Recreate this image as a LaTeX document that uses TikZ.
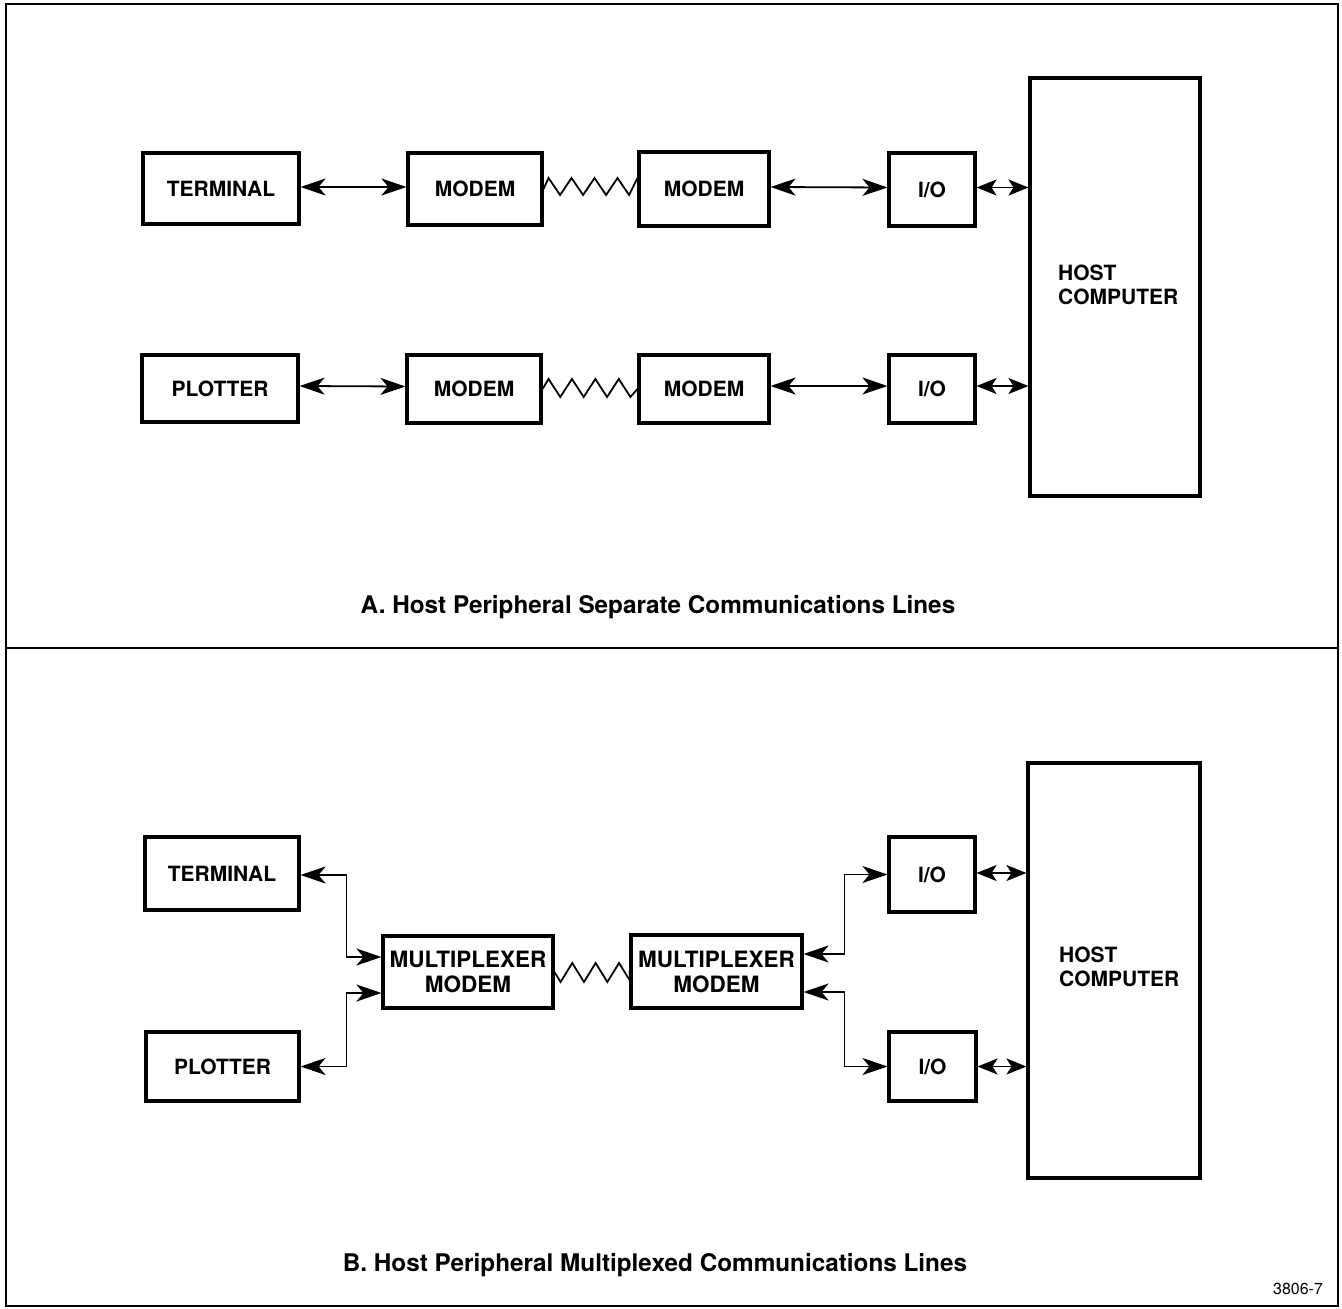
\documentclass[tikz,border=0pt]{standalone}
\usepackage{fontspec}
\setmainfont{TeX Gyre Heros}
\usetikzlibrary{arrows.meta,calc}

\tikzset{
  blk/.style={draw, line width=3.1pt, inner sep=0pt, font=\fontsize{21}{24}\selectfont\bfseries},
  mux/.style={blk, align=center, font=\fontsize{22.5}{25}\selectfont\bfseries},
  link/.style={line width=1.8pt, {Stealth[length=25pt,width=17pt,inset=7pt]}-{Stealth[length=25pt,width=17pt,inset=7pt]}},
  hostlink/.style={line width=1.8pt, {Stealth[length=20pt,width=16pt,inset=5pt]}-{Stealth[length=20pt,width=16pt,inset=5pt]}},
  wire/.style={line width=1.8pt, line join=miter},
  hosttxt/.style={anchor=north west, align=left, inner sep=0pt, font=\fontsize{21}{24}\selectfont\bfseries},
  caption/.style={font=\fontsize{24.3}{28}\selectfont\bfseries},
}

\begin{document}
\begin{tikzpicture}[x=1pt,y=-1pt]
\useasboundingbox (0,0) rectangle (1342,1309);

% outer frame and divider
\draw[line width=2.4pt] (6,4) rectangle (1338,1306);
\draw[line width=2.2pt] (6,648) -- (1338,648);

% ---------- A: separate lines ----------
\node[blk, minimum width=156pt, minimum height=71pt] (termA) at (221,188.5) {TERMINAL};
\node[blk, minimum width=134pt, minimum height=72pt] (mA1) at (475,189) {MODEM};
\node[blk, minimum width=130pt, minimum height=74pt] (mA2) at (704,189) {MODEM};
\node[blk, minimum width=86pt, minimum height=73pt] (ioA1) at (932,189.5) {I/O};

\node[blk, minimum width=156pt, minimum height=67pt] (plotA) at (220,388.5) {PLOTTER};
\node[blk, minimum width=134pt, minimum height=68pt] (mA3) at (474,389) {MODEM};
\node[blk, minimum width=130pt, minimum height=68pt] (mA4) at (704,389) {MODEM};
\node[blk, minimum width=86pt, minimum height=68pt] (ioA2) at (932,389) {I/O};

\node[draw, line width=3.1pt, minimum width=170pt, minimum height=418pt, inner sep=0pt] (hostA) at (1115,287) {};
\node[hosttxt] (hostAt) at (1058,265) {HOST\\COMPUTER};

\draw[link] ([yshift=1.5pt]termA.east) -- ([yshift=1.5pt]mA1.west |- termA.east);
% telephone line between the modems
\draw[wire] (mA1.east) -- ++(5,-11)
  -- ++(11.5,17) -- ++(11.5,-17) -- ++(11.5,17) -- ++(11.5,-17)
  -- ++(11.5,17) -- ++(11.5,-17) -- ++(11.5,17) -- (mA2.west |- 0,178);
\draw[link] ([yshift=2pt]mA2.east) -- ([yshift=2pt]ioA1.west);
\draw[hostlink] ([yshift=2pt]ioA1.east) -- ([yshift=2pt]hostA.west |- ioA1.east);

\draw[link] ([yshift=2.5pt]plotA.east) -- ([yshift=2.5pt]mA3.west);
\draw[wire] (mA3.east) -- ++(6,-10)
  -- ++(11.7,18) -- ++(11.7,-18) -- ++(11.7,18) -- ++(11.7,-18)
  -- ++(11.7,18) -- ++(11.7,-18) -- ++(11.7,18) -- (mA4.west);
\draw[link] ([yshift=3pt]mA4.east) -- ([yshift=3pt]ioA2.west);
\draw[hostlink] ([yshift=3pt]ioA2.east) -- ([yshift=3pt]hostA.west |- ioA2.east);

\node[caption] (capA) at (658,607) {A. Host Peripheral Separate Communications Lines};

% ---------- B: multiplexed lines ----------
\node[blk, minimum width=154pt, minimum height=73pt] (termB) at (222,873.5) {TERMINAL};
\node[blk, minimum width=153pt, minimum height=69pt] (plotB) at (222.5,1066.5) {PLOTTER};
\node[mux, minimum width=170pt, minimum height=72pt] (mxB1) at (468,972) {MULTIPLEXER\\MODEM};
\node[mux, minimum width=171pt, minimum height=73pt] (mxB2) at (716.5,971.5) {MULTIPLEXER\\MODEM};
\node[blk, minimum width=86pt, minimum height=75pt] (ioB1) at (932,874.5) {I/O};
\node[blk, minimum width=87pt, minimum height=69pt] (ioB2) at (932.5,1066.5) {I/O};

\node[draw, line width=3.1pt, minimum width=172pt, minimum height=415pt, inner sep=0pt] (hostB) at (1114,970.5) {};
\node[hosttxt] (hostBt) at (1059,947) {HOST\\COMPUTER};

\draw[link] ([yshift=-1.5pt]termB.east) -- ++(46,0) |- ([yshift=15pt]mxB1.west);
\draw[link] (plotB.east) -- ++(46,0) |- ([yshift=-21pt]mxB1.west);
\draw[wire] (mxB1.east) -- ++(6,10)
  -- ++(11.7,-19) -- ++(11.7,19) -- ++(11.7,-19) -- ++(11.7,19)
  -- ++(11.7,-19) -- ++(11.7,19) -- (mxB2.west);
\draw[link] ([yshift=17.5pt]mxB2.east) -- ++(41,0) |- (ioB1.west);
\draw[link] ([yshift=-20.5pt]mxB2.east) -- ++(41,0) |- (ioB2.west);
\draw[hostlink] ([yshift=1.5pt]ioB1.east) -- ([yshift=1.5pt]hostB.west |- ioB1.east);
\draw[hostlink] (ioB2.east) -- (hostB.west |- ioB2.east);

\node[caption] (capB) at (655,1265) {B. Host Peripheral Multiplexed Communications Lines};

\node[font=\fontsize{16}{18}\selectfont] (fig) at (1298,1289) {3806-7};
\end{tikzpicture}
\end{document}
